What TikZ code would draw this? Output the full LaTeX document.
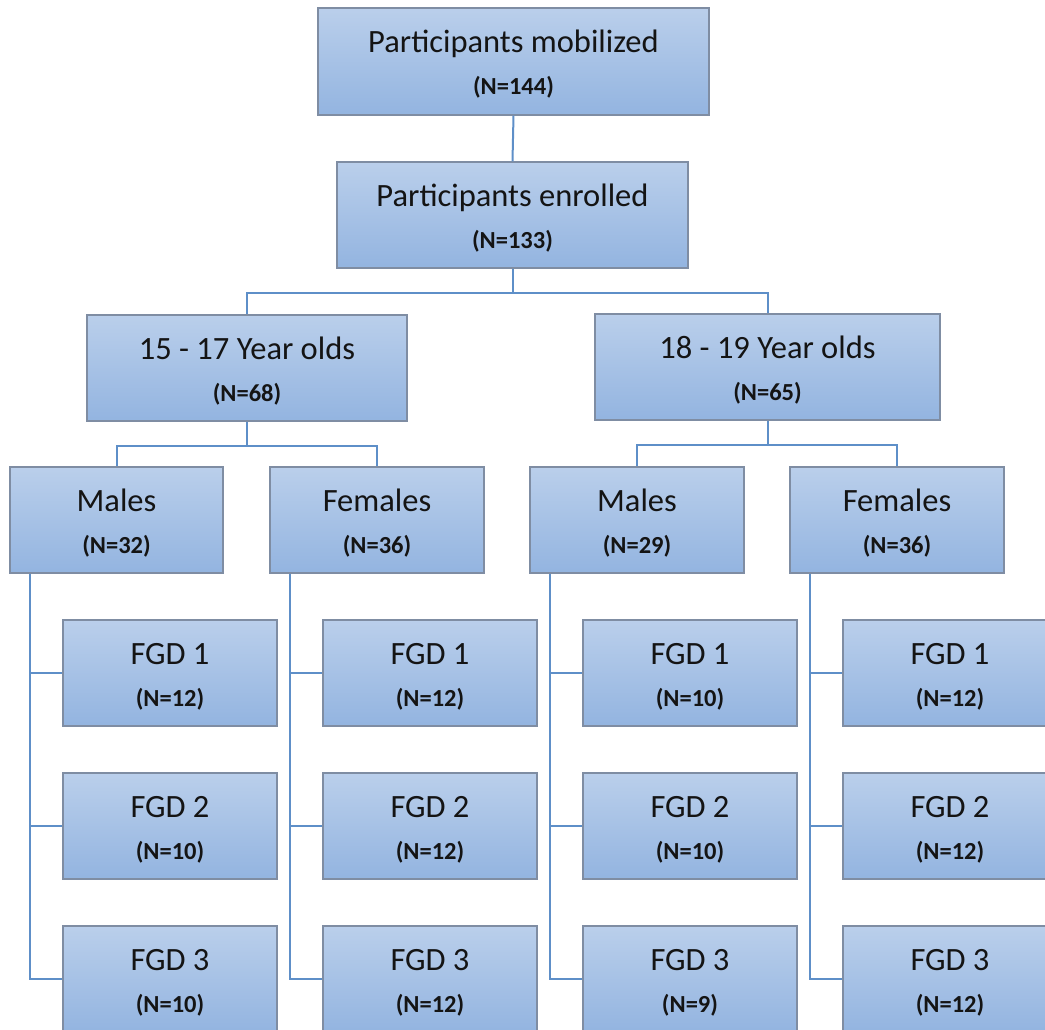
\documentclass[tikz,border=0pt]{standalone}
\usepackage{fontspec}
\setmainfont{Carlito}
\usetikzlibrary{calc}
\definecolor{boxtop}{HTML}{BACFEB}
\definecolor{boxbot}{HTML}{93B4E0}
\definecolor{boxedge}{HTML}{7F8DA3}
\definecolor{wire}{HTML}{5E8FC8}
\tikzset{
  box/.style={rectangle, draw=boxedge, line width=1.3pt, top color=boxtop, bottom color=boxbot, inner sep=0pt},
  title/.style={font=\fontsize{32.5}{36}\selectfont, text=black!92, inner sep=0pt, anchor=base},
  count/.style={font=\fontsize{24.5}{28}\selectfont\bfseries, text=black!92, inner sep=0pt, anchor=base},
  wire/.style={draw=wire, line width=2pt}
}
% \flowbox{name}{left}{top}{right}{bottom}{heading}{count}
\newcommand{\flowbox}[7]{%
  \node[box, minimum width=#4-#2, minimum height=#5-#3] (#1) at ({(#2+#4)/2},{(#3+#5)/2}) {};
  \node[title] (#1-t) at ($(#1.north)+(0,45)$) {#6};
  \node[count] (#1-n) at ($(#1.north)+(0,87)$) {#7};
}
\begin{document}
\begin{tikzpicture}[x=1pt,y=-1pt]
\useasboundingbox (0,0) rectangle (1045,1030);
\clip (0,0) rectangle (1045,1030);

% upper levels
\flowbox{mob}{318}{8}{709}{115}{Participants mobilized}{(N=144)}
\flowbox{enr}{337}{162}{688}{268}{Participants enrolled}{(N=133)}
\flowbox{ya}{87}{315}{407}{421}{15 - 17 Year olds}{(N=68)}
\flowbox{yb}{595}{314}{940}{420}{18 - 19 Year olds}{(N=65)}
\flowbox{ma}{10}{467}{223}{573}{Males}{(N=32)}
\flowbox{fa}{270}{467}{484}{573}{Females}{(N=36)}
\flowbox{mb}{530}{467}{744}{573}{Males}{(N=29)}
\flowbox{fb}{790}{467}{1004}{573}{Females}{(N=36)}

% focus groups
\flowbox{ma1}{63}{620}{277}{726}{FGD 1}{(N=12)}
\flowbox{ma2}{63}{773}{277}{879}{FGD 2}{(N=10)}
\flowbox{ma3}{63}{926}{277}{1032}{FGD 3}{(N=10)}
\flowbox{fa1}{323}{620}{537}{726}{FGD 1}{(N=12)}
\flowbox{fa2}{323}{773}{537}{879}{FGD 2}{(N=12)}
\flowbox{fa3}{323}{926}{537}{1032}{FGD 3}{(N=12)}
\flowbox{mb1}{583}{620}{797}{726}{FGD 1}{(N=10)}
\flowbox{mb2}{583}{773}{797}{879}{FGD 2}{(N=10)}
\flowbox{mb3}{583}{926}{797}{1032}{FGD 3}{(N=9)}
\flowbox{fb1}{843}{620}{1057}{726}{FGD 1}{(N=12)}
\flowbox{fb2}{843}{773}{1057}{879}{FGD 2}{(N=12)}
\flowbox{fb3}{843}{926}{1057}{1032}{FGD 3}{(N=12)}

% tree connectors
\draw[wire] (mob.south) -- (enr.north);
\draw[wire] (enr.south) -- ++(0,24) -| (ya.north);
\draw[wire] (enr.south) -- ++(0,24) -| (yb.north);
\draw[wire] (ya.south) -- ++(0,24) -| (ma.north);
\draw[wire] (ya.south) -- ++(0,24) -| (fa.north);
\draw[wire] (yb.south) -- ++(0,24) -| (mb.north);
\draw[wire] (yb.south) -- ++(0,24) -| (fb.north);

% side rails to the focus groups
\foreach \p in {ma,fa,mb,fb}{
  \draw[wire] (\p.south west) ++(21,0) coordinate (\p-rail) -- (\p-rail |- \p3.west) -- (\p3.west);
  \draw[wire] (\p-rail |- \p1.west) -- (\p1.west);
  \draw[wire] (\p-rail |- \p2.west) -- (\p2.west);
}
\end{tikzpicture}
\end{document}
